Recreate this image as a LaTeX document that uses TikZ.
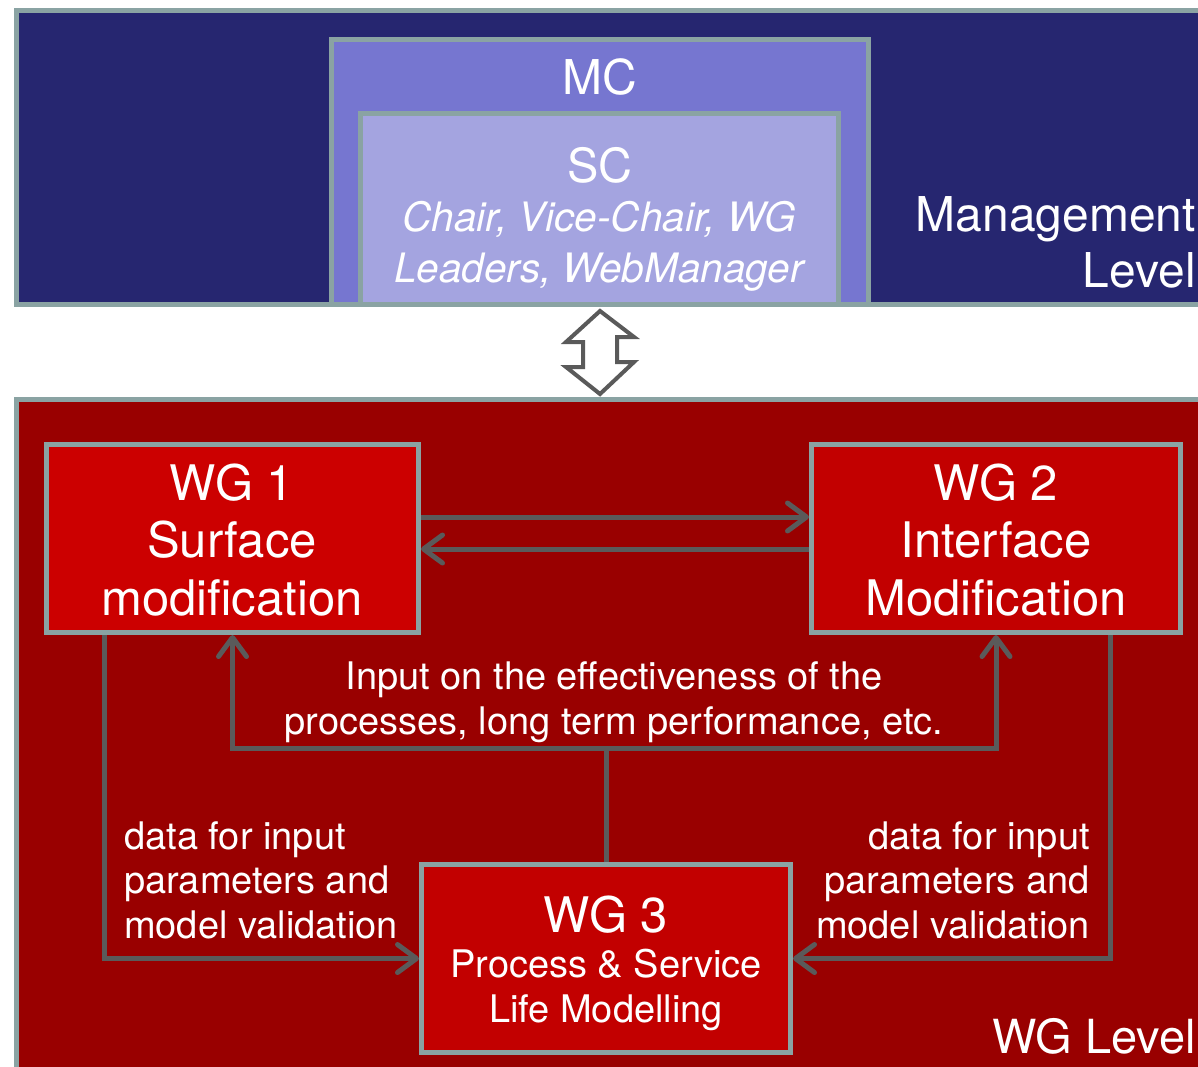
\documentclass[tikz,border=0pt]{standalone}
\usepackage{fontspec}
\setmainfont{TeX Gyre Heros}
\usetikzlibrary{arrows.meta,calc}
\definecolor{mgmtfill}{HTML}{262670}
\definecolor{mcfill}{HTML}{7676D0}
\definecolor{scfill}{HTML}{A4A4E0}
\definecolor{wglfill}{HTML}{990000}
\definecolor{wgafill}{HTML}{CC0000}
\definecolor{wgbfill}{HTML}{C20000}
\definecolor{bordercol}{HTML}{8AA3A3}
\definecolor{conncol}{HTML}{5A5A5A}
\tikzset{
  panel/.style={draw=bordercol, line width=5pt, rectangle, inner sep=0pt},
  conn/.style={draw=conncol, line width=5pt},
  tip/.style={-{Straight Barb[length=19pt,width=28pt,round]}},
  txt/.style={text=white, inner sep=0pt, align=center},
  big/.style={font=\fontsize{49}{57.5}\selectfont},
  small/.style={font=\fontsize{38}{44.5}\selectfont},
}
\begin{document}
\begin{tikzpicture}[x=1pt,y=-1pt]
\clip (0,0) rectangle (1198,1066);
\fill[white] (0,0) rectangle (1198,1066);
% management level
\node[panel, fill=mgmtfill, minimum width=1198.5pt, minimum height=294pt] (mgmt) at (615.75,157.5) {};
\node[panel, fill=mcfill, minimum width=537pt, minimum height=265pt] (mc) at (600,172) {};
\node[panel, fill=scfill, minimum width=478pt, minimum height=191pt] (sc) at (599.5,209) {};
\node[txt, font=\fontsize{48}{57}\selectfont] (mct) at (600,77) {MC};
\node[txt, font=\fontsize{47}{56}\selectfont] (sct) at (600,165) {SC};
\node[txt, font=\fontsize{40.5}{51}\selectfont\itshape] (scm) at (599,246) {Chair, Vice-Chair, WG\\Leaders, WebManager};
\node[txt, font=\fontsize{48}{56}\selectfont, anchor=east, align=right] (mgt) at (1196,242) {Management\\Level};
% WG level
\node[panel, fill=wglfill, minimum width=1198.5pt, minimum height=690.5pt] (wgl) at (615.75,744.75) {};
\node[txt, font=\fontsize{47}{56}\selectfont, anchor=east] (wglt) at (1196,1036) {WG Level};
% double arrow between levels
\draw[draw=conncol, fill=white, line width=4pt, line join=miter]
  ($(sc.south)+(0.5,4)$) -- ++(-34,31) -- ++(17,0) -- ++(0,25) -- ++(-17,0)
  -- ($(wgl.north)+(-15.75,-3)$) -- ++(34,-32) -- ++(-17,0) -- ++(0,-25) -- ++(17,0) -- cycle;
% working groups
\node[panel, fill=wgafill, minimum width=372pt, minimum height=188pt] (wg1) at (232.5,538.5) {};
\node[panel, fill=wgbfill, minimum width=369pt, minimum height=188pt] (wg2) at (996,538.5) {};
\node[panel, fill=wgbfill, minimum width=369pt, minimum height=188pt] (wg3) at (606,958.5) {};
\node[txt, big] (wg1t) at (232,540) {WG 1\\Surface\\modification};
\node[txt, big] (wg2t) at (996,540) {WG 2\\Interface\\Modification};
\node[txt, big] (wg3t) at (606,915) {WG 3};
\node[txt, small] (wg3s) at (606,990) {Process \& Service\\Life Modelling};
% connectors between WG1 and WG2
\draw[conn, tip] ($(wg1.east)+(0,-21.5)$) -- ($(wg2.west)+(0,-21.5)$);
\draw[conn, tip] ($(wg2.west)+(0,10.5)$) -- ($(wg1.east)+(0,10.5)$);
% feedback from WG3
\coordinate (j) at ($(wg3.north)+(0,-114)$);
\draw[conn] (wg3.north) -- (j);
\draw[conn, tip] (j) -- (j -| wg1.south) -- (wg1.south);
\draw[conn, tip] (j) -- (j -| wg2.south) -- (wg2.south);
\node[txt, small] (inp) at (614,702) {Input on the effectiveness of the\\processes, long term performance, etc.};
% data to WG3
\coordinate (a) at ($(wg1.south west)+(60,0)$);
\coordinate (b) at ($(wg2.south east)+(-73,0)$);
\draw[conn, tip] (a) |- (wg3.west);
\draw[conn, tip] (b) |- (wg3.east);
\node[txt, small, anchor=west, align=left] (dl) at (124,880) {data for input\\parameters and\\model validation};
\node[txt, small, anchor=east, align=right] (dr) at (1090,880) {data for input\\parameters and\\model validation};
\end{tikzpicture}
\end{document}
